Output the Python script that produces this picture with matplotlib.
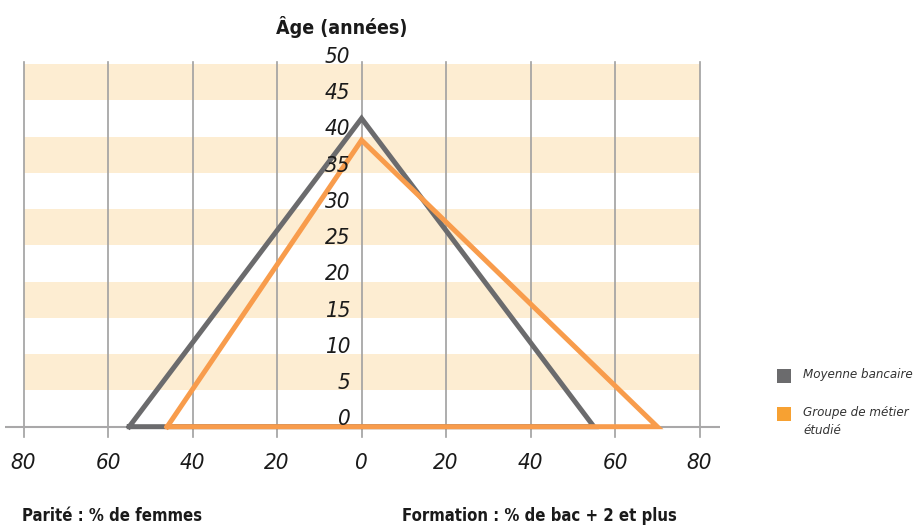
import matplotlib
matplotlib.use('Agg')
import matplotlib.pyplot as plt
from matplotlib.patches import Rectangle

# DejaVu Sans ships a condensed cut, close to the narrow face of the original
plt.rcParams['font.family'] = ['DejaVu Sans']
plt.rcParams['font.stretch'] = 'condensed'

# -----------------------------------------------------------------------------
# data

series = ['Moyenne bancaire', 'Groupe de métier\nétudié']
parite = [55, 46]        # % de femmes (left side)
age = [42.5, 39.5]       # âge moyen (top)
formation = [55, 70]     # % bac + 2 et plus (right side)
colors = ['#6b6b6d', '#f89c4c']
legend_colors = ['#6b6b6d', '#f7a132']

x_ticks = [-80, -60, -40, -20, 0, 20, 40, 60, 80]
x_labels = ['80', '60', '40', '20', '0', '20', '40', '60', '80']
y_ticks = [0, 5, 10, 15, 20, 25, 30, 35, 40, 45, 50]
band_starts = [5, 15, 25, 35, 45]

# -----------------------------------------------------------------------------

fig = plt.figure(figsize=(9.16, 5.29), dpi=100)
W, H = 916, 529

# axes placed in pixel terms: x -84.4 .. 84.85 -> 5 .. 720 px
ax = fig.add_axes([5 / W, (H - 441.2) / H, 715 / W, (441.2 - 49.5) / H])
ax.set_xlim(-84.4, 84.85)
ax.set_ylim(-2, 52)
ax.axis('off')

for b in band_starts:
    ax.add_patch(Rectangle((-80, b), 160, 5, facecolor='#fdedd2',
                           edgecolor='none', zorder=0))

for xt in x_ticks:
    ax.plot([xt, xt], [-1.4, 50.3], color='#a09fa0', lw=1.2, zorder=1)
ax.plot([-84.4, 84.85], [0, 0], color='#a9a8a9', lw=1.5, zorder=1)

for p, a, f, c in zip(parite, age, formation, colors):
    ax.plot([-p, 0, f, -p], [0, a, 0, 0], color=c, lw=3.6,
            solid_joinstyle='miter', zorder=3)

for yt in y_ticks:
    ax.text(-2.6, yt + 1.0, str(yt), ha='right', va='center',
            fontsize=16, style='italic', color='#1a1a1a', zorder=4)

for xt, lab in zip(x_ticks, x_labels):
    ax.text(xt, -5.0, lab, ha='center', va='center', fontsize=16,
            style='italic', color='#1a1a1a', clip_on=False)

fig.text(342 / W, 1 - 27 / H, 'Âge (années)', ha='center', va='center',
         fontsize=14, fontweight='bold', color='#1a1a1a')
fig.text(22 / W, 1 - 516 / H, 'Parité : % de femmes', ha='left',
         va='center', fontsize=12, fontweight='bold', color='#1a1a1a')
fig.text(402 / W, 1 - 516 / H, 'Formation : % de bac + 2 et plus',
         ha='left', va='center', fontsize=12, fontweight='bold',
         color='#1a1a1a')

# legend drawn by hand
leg_y = [376, 414]
for name, c, ly in zip(series, legend_colors, leg_y):
    fig.patches.append(Rectangle((777 / W, 1 - (ly + 7) / H), 14 / W, 14 / H,
                                 facecolor=c, edgecolor='none',
                                 transform=fig.transFigure, figure=fig))
    fig.text(803 / W, 1 - (ly - 8) / H, name, ha='left', va='top',
             fontsize=9.5, style='italic', color='#333333',
             linespacing=1.5)

fig.savefig('out.png', dpi=100)
